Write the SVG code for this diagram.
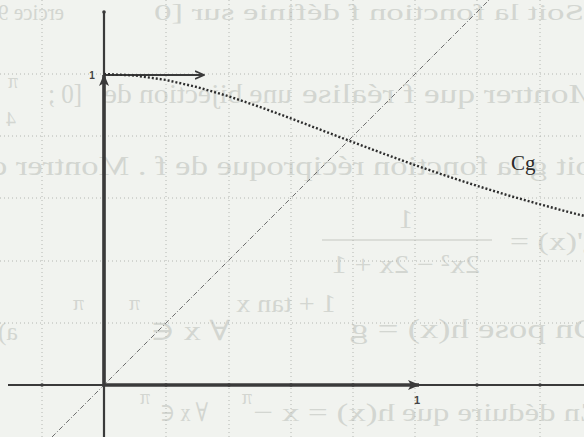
<svg xmlns="http://www.w3.org/2000/svg" width="584" height="437" viewBox="0 0 584 437">
<style>
.ghost{font-family:"Liberation Serif","DejaVu Serif",serif;fill:#d3d6d1;}
.grid{stroke:#b4b7b2;stroke-width:1;stroke-dasharray:1 3;fill:none;}
.axis{stroke:#3a3a3a;fill:none;stroke-linecap:butt;}
.lbl{font-family:"Liberation Sans","DejaVu Sans",sans-serif;fill:#444;font-weight:bold;}
</style>
<defs>
<marker id="headFill" viewBox="0 0 12 10" refX="11" refY="5" markerWidth="12" markerHeight="10" markerUnits="userSpaceOnUse" orient="auto">
<path d="M0,0 L12,5 L0,10 L3,5 Z" fill="#3a3a3a"/>
</marker>
<marker id="headOpen" viewBox="0 0 10 10" refX="9" refY="5" markerWidth="10" markerHeight="10" markerUnits="userSpaceOnUse" orient="auto">
<path d="M0,1 L9,5 L0,9" fill="none" stroke="#3a3a3a" stroke-width="1.6"/>
</marker>
</defs>
<rect width="584" height="437" fill="#f1f3ef"/>

<!-- faint bleed-through text from the back of the page (mirrored) -->
<g id="ghost">
<text class="ghost" font-size="24" transform="translate(64,20) scale(-1,1)" textLength="66" lengthAdjust="spacingAndGlyphs">ercice 9</text>
<text class="ghost" font-size="24" transform="translate(584,20) scale(-1,1)" textLength="430" lengthAdjust="spacingAndGlyphs">Soit la fonction f définie sur [0</text>
<text class="ghost" font-size="28" transform="translate(600,103) scale(-1,1)" textLength="298" lengthAdjust="spacingAndGlyphs">Montrer que f réalise</text>
<text class="ghost" font-size="28" transform="translate(292,103) scale(-1,1)" textLength="188" lengthAdjust="spacingAndGlyphs">une bijection de</text>
<text class="ghost" font-size="28" transform="translate(82,103) scale(-1,1)" textLength="34" lengthAdjust="spacingAndGlyphs">[0 ;</text>
<text class="ghost" font-size="20" transform="translate(18,88) scale(-1,1)">π</text>
<text class="ghost" font-size="20" transform="translate(16,126) scale(-1,1)">4</text>
<text class="ghost" font-size="28" transform="translate(612,175) scale(-1,1)" textLength="622" lengthAdjust="spacingAndGlyphs">Soit g la fonction réciproque de f . Montrer q</text>
<text class="ghost" font-size="26" transform="translate(600,250) scale(-1,1)" textLength="90" lengthAdjust="spacingAndGlyphs">g'(x) =</text>
<text class="ghost" font-size="28" transform="translate(413,228) scale(-1,1)">1</text>
<line x1="322" y1="240" x2="492" y2="240" stroke="#d3d6d1" stroke-width="1.5"/>
<text class="ghost" font-size="26" transform="translate(480,273) scale(-1,1)" textLength="148" lengthAdjust="spacingAndGlyphs">2x² − 2x + 1</text>
<text class="ghost" font-size="28" transform="translate(600,338) scale(-1,1)" textLength="250" lengthAdjust="spacingAndGlyphs">On pose h(x) = g</text>
<text class="ghost" font-size="26" transform="translate(336,312) scale(-1,1)" textLength="100" lengthAdjust="spacingAndGlyphs">1 + tan x</text>
<text class="ghost" font-size="28" transform="translate(230,340) scale(-1,1)" textLength="80" lengthAdjust="spacingAndGlyphs">∀ x ∈</text>
<text class="ghost" font-size="22" transform="translate(140,310) scale(-1,1)">π</text>
<text class="ghost" font-size="22" transform="translate(84,310) scale(-1,1)">π</text>
<text class="ghost" font-size="26" transform="translate(18,340) scale(-1,1)">a)</text>
<text class="ghost" font-size="26" transform="translate(600,421) scale(-1,1)" textLength="198" lengthAdjust="spacingAndGlyphs">En déduire que</text>
<text class="ghost" font-size="26" transform="translate(395,421) scale(-1,1)" textLength="142" lengthAdjust="spacingAndGlyphs">h(x) = x −</text>
<text class="ghost" font-size="20" transform="translate(252,404) scale(-1,1)">π</text>
<text class="ghost" font-size="26" transform="translate(208,421) scale(-1,1)" textLength="48" lengthAdjust="spacingAndGlyphs">∀ x ∈</text>
<text class="ghost" font-size="20" transform="translate(150,404) scale(-1,1)">π</text>
</g>

<!-- grid -->
<g id="grid">
<path class="grid" d="M42,0V437 M166,0V437 M229,0V437 M291,0V437 M353,0V437 M415,0V437 M477,0V437 M540,0V437"/>
<path class="grid" d="M0,74H584 M0,136H584 M0,198H584 M0,261H584 M0,323H584"/>
</g>

<!-- connectors / axes -->
<g id="connectors">
<line x1="52" y1="437" x2="489" y2="0" stroke="#6c6c6c" stroke-width="1" stroke-dasharray="5 2 1 2"/>
<line class="axis" x1="8" y1="385" x2="584" y2="385" stroke-width="2.2"/>
<line class="axis" x1="104" y1="437" x2="104" y2="12" stroke-width="2.2"/>
<line class="axis" x1="104" y1="385" x2="419" y2="385" stroke-width="3.6" marker-end="url(#headFill)"/>
<line class="axis" x1="104" y1="385" x2="104" y2="75" stroke-width="3.6" marker-end="url(#headFill)"/>
<line class="axis" x1="104" y1="75" x2="204" y2="75" stroke-width="1.8" marker-end="url(#headOpen)"/>
<g fill="#3a3a3a">
<circle cx="42" cy="385" r="1.8"/><circle cx="166" cy="385" r="1.8"/><circle cx="229" cy="385" r="1.8"/>
<circle cx="291" cy="385" r="1.8"/><circle cx="353" cy="385" r="1.8"/><circle cx="477" cy="385" r="1.8"/><circle cx="540" cy="385" r="1.8"/>
<circle cx="104" cy="12" r="1.8"/>
</g>
</g>

<!-- curve Cg -->
<g id="curve">
<path d="M104,74 L135.1,75.5 L166.2,80 L197.3,87.1 L228.4,96.2 L259.5,106.8 L290.6,118.3 L321.7,130.2 L352.8,142.1 L383.9,153.8 L415,165.1 L446.1,175.8 L477.2,185.9 L508.3,195.4 L539.4,204.2 L570.5,212.5 L601.6,220.2" fill="none" stroke="#2e2e2e" stroke-width="2.4" stroke-dasharray="2 2"/>
</g>

<g id="label-Cg"><text x="511" y="170" font-family="Liberation Serif, DejaVu Serif, serif" font-size="21" fill="#2a2a2a">Cg</text></g>
<g id="label-y1"><text class="lbl" x="92" y="79" font-size="10" text-anchor="middle">1</text></g>
<g id="label-x1"><text class="lbl" x="417" y="404" font-size="11" text-anchor="middle">1</text></g>
</svg>
